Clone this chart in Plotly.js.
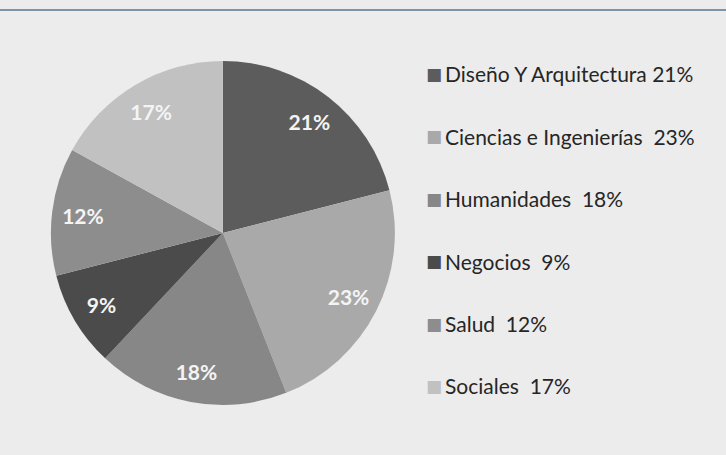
<!DOCTYPE html>
<html><head><meta charset="utf-8">
<script src="https://cdn.plot.ly/plotly-3.0.1.min.js"></script>
<style>html,body{margin:0;padding:0;background:#ececec;}</style>
</head><body>
<div id="chart" style="width:726px;height:455px;"></div>
<script>
const categories = ["Diseño Y Arquitectura", "Ciencias e Ingenierías", "Humanidades", "Negocios", "Salud", "Sociales"];
const values = [21, 23, 18, 9, 12, 17];
const legendLabels = ["Diseño Y Arquitectura 21%", "Ciencias e Ingenierías  23%", "Humanidades  18%", "Negocios  9%", "Salud  12%", "Sociales  17%"];
const colors = ["#5c5c5c", "#a9a9a9", "#878787", "#4b4b4b", "#8d8d8d", "#c1c1c1"];

const pieDomain = {x: [0.070, 0.544], y: [0.110, 0.866]};

const trace = {
  type: "pie",
  labels: categories,
  values: values,
  sort: false,
  direction: "clockwise",
  rotation: 0,
  marker: {colors: colors, line: {width: 0}},
  textinfo: "none",
  domain: pieDomain,
  showlegend: false,
  hoverinfo: "label+percent"
};

// transparent overlay ring used only to place the percentage labels further out
const labelTrace = {
  type: "pie",
  labels: categories,
  values: values,
  sort: false,
  direction: "clockwise",
  rotation: 0,
  hole: 0.64,
  marker: {colors: colors.map(() => "rgba(0,0,0,0)"), line: {width: 0}},
  texttemplate: "%{value}%",
  textposition: "inside",
  insidetextorientation: "horizontal",
  textfont: {family: "Lato, sans-serif", size: 21, color: "#f4f4f4", weight: "bold"},
  domain: pieDomain,
  showlegend: false,
  hoverinfo: "skip"
};

const annotations = [];
const legendTop = 0.8374, legendStep = 0.1371;
legendLabels.forEach((lab, i) => {
  const y = legendTop - i * legendStep;
  annotations.push({
    xref: "paper", yref: "paper", x: 0.5855, y: y, xanchor: "left", yanchor: "middle",
    text: "■", showarrow: false, borderpad: 0, font: {size: 17, color: colors[i], family: "DejaVu Sans"}
  });
  annotations.push({
    xref: "paper", yref: "paper", x: 0.6115, y: y, xanchor: "left", yanchor: "middle",
    text: lab, showarrow: false, borderpad: 0, font: {size: 21, color: "#262626", family: "Lato, sans-serif"}
  });
});

const layout = {
  width: 726, height: 455,
  margin: {l: 0, r: 0, t: 0, b: 0},
  paper_bgcolor: "#ececec",
  plot_bgcolor: "#ececec",
  showlegend: false,
  annotations: annotations,
  shapes: [{type: "line", xref: "paper", yref: "paper", x0: 0, x1: 1, y0: 0.978, y1: 0.978,
            line: {color: "#7d93a6", width: 2}}]
};

Plotly.newPlot("chart", [trace, labelTrace], layout, {displayModeBar: false, staticPlot: true});
</script>
</body></html>
